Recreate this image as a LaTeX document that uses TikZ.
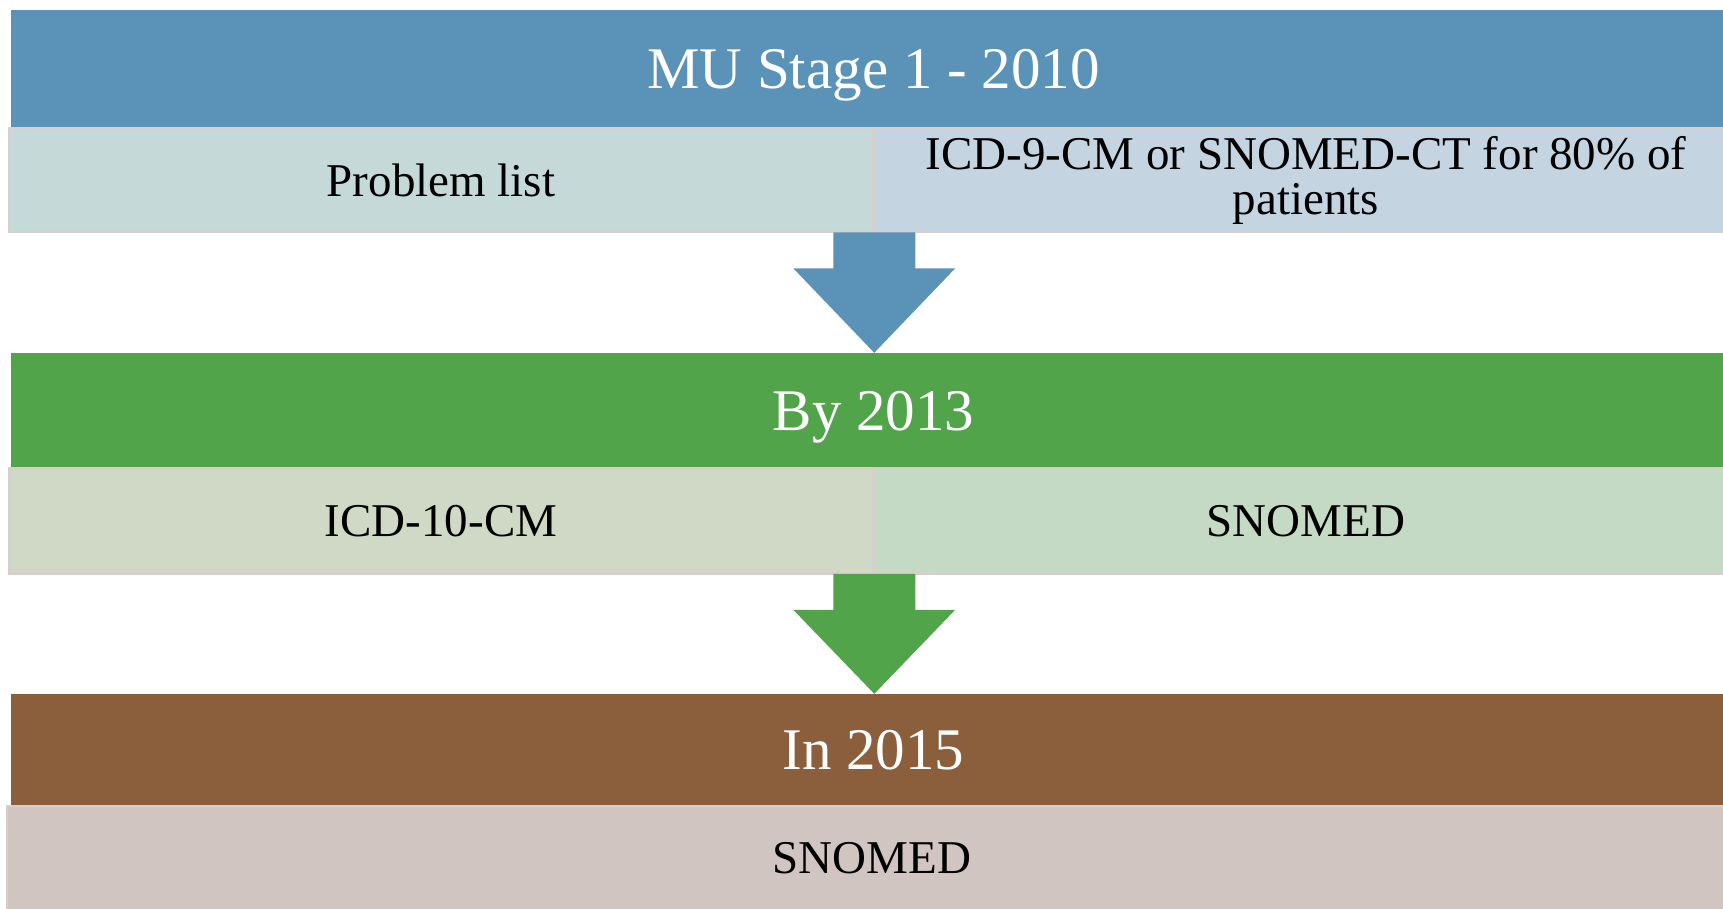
\documentclass[tikz,border=0pt]{standalone}
\usepackage{fontspec}
\setmainfont{Liberation Serif}
\usetikzlibrary{calc}

\definecolor{hdrBlue}{HTML}{5B92B7}
\definecolor{hdrGreen}{HTML}{52A44A}
\definecolor{hdrBrown}{HTML}{8B5E3C}
\definecolor{subTeal}{HTML}{C5D9D9}
\definecolor{subSky}{HTML}{C5D4E1}
\definecolor{subSage}{HTML}{CFD9C6}
\definecolor{subMint}{HTML}{C4DAC4}
\definecolor{subTaupe}{HTML}{D0C5C1}
\definecolor{subEdge}{HTML}{D6CFCC}

\tikzset{
    hdr/.style={rectangle, inner sep=0pt, text=white, minimum width=1725pt,
        text height=39pt, text depth=0pt, font=\fontsize{59}{60}\selectfont},
    sub/.style={rectangle, inner sep=0pt, draw=subEdge, line width=2.5pt,
        text=black, align=center, font=\fontsize{47}{45}\selectfont},
}

\begin{document}
\begin{tikzpicture}[x=1pt, y=-1pt]
    \clip (0,0) rectangle (1723,908);

    % Stage 1
        \node[hdr, fill=hdrBlue, minimum height=117pt] (stageOne) at (873.5,68.5) {MU Stage 1 - 2010};
        \node[sub, fill=subTeal, minimum width=864pt, minimum height=104pt] (probList) at (441,180) {Problem list};
        \node[sub, fill=subSky, minimum width=864pt, minimum height=104pt] (icdNine) at (1306,180) {ICD-9-CM or SNOMED-CT for 80\% of\\patients};

    % By 2013
        \node[hdr, fill=hdrGreen, minimum height=115pt] (byYear) at (873.5,410.5) {By 2013};
        \node[sub, fill=subSage, minimum width=864pt, minimum height=105pt] (icdTen) at (441,521) {ICD-10-CM};
        \node[sub, fill=subMint, minimum width=864pt, minimum height=105pt] (snoMid) at (1306,521) {SNOMED};

    % In 2015
        \node[hdr, fill=hdrBrown, minimum height=111pt] (inYear) at (873.5,749.5) {In 2015};
        \node[sub, fill=subTaupe, minimum width=1730pt, minimum height=104pt] (snoEnd) at (872,858) {SNOMED};

    % block arrows between the stages
        \coordinate (A) at (probList.south east);
        \fill[hdrBlue] ($(A)+(-41,-1)$) -- ($(A)+(41,-1)$) -- ($(A)+(41,35)$) -- ($(A)+(81,35)$)
            -- (A |- byYear.north) -- ($(A)+(-81,35)$) -- ($(A)+(-41,35)$) -- cycle;
        \coordinate (B) at (icdTen.south east);
        \fill[hdrGreen] ($(B)+(-41,-1)$) -- ($(B)+(41,-1)$) -- ($(B)+(41,35)$) -- ($(B)+(81,35)$)
            -- (B |- inYear.north) -- ($(B)+(-81,35)$) -- ($(B)+(-41,35)$) -- cycle;
\end{tikzpicture}
\end{document}
